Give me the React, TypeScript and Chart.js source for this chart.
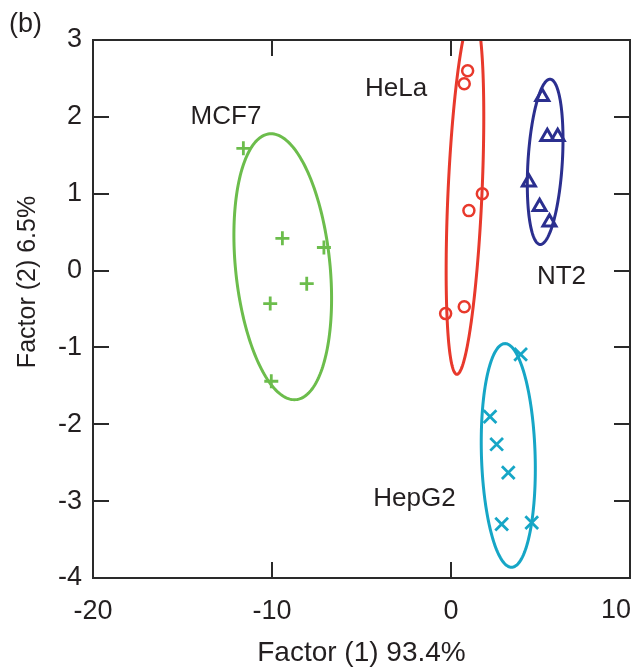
import React, { useEffect, useRef } from 'react';
import { Chart, registerables } from 'chart.js';

Chart.register(...registerables);

// Axes
const xMin = -20;
const xMax = 10;
const yMin = -4;
const yMax = 3;
const xTitle = 'Factor (1) 93.4%';
const yTitle = 'Factor (2) 6.5%';
const panelLabel = '(b)';

// Group scores
const mcf7X = [-11.6, -9.42, -7.1, -8.06, -10.1, -10.04];
const mcf7Y = [1.59, 0.42, 0.3, -0.17, -0.43, -1.44];
const helaX = [0.93, 0.74, 1.75, 1.0, -0.3, 0.74];
const helaY = [2.6, 2.43, 1.0, 0.78, -0.56, -0.47];
const nt2X = [5.1, 5.38, 5.96, 4.35, 4.95, 5.5];
const nt2Y = [2.26, 1.74, 1.74, 1.15, 0.83, 0.63];
const hepg2X = [3.89, 2.18, 2.55, 3.2, 2.83, 4.51];
const hepg2Y = [-1.09, -1.9, -2.26, -2.63, -3.3, -3.28];

// Confidence ellipses (MCF7, HeLa, NT2, HepG2): centre, half-width, half-height, tilt
const groupNames = ['MCF7', 'HeLa', 'NT2', 'HepG2'];
const groupColors = ['#6cbd4c', '#e8392c', '#2b2f8f', '#16a6c6'];
const ellipseCx = [-9.4, 0.78, 5.26, 3.2];
const ellipseCy = [0.05, 1.0, 1.415, -2.405];
const ellipseRx = [2.65, 0.95, 0.96, 1.5];
const ellipseRy = [1.73, 2.35, 1.075, 1.455];
const ellipseKx = [-0.65, 0.45, 0.27, -0.18];
const labelX = [-12.57, -3.07, 6.17, -2.04];
const labelY = [2.0, 2.37, -0.08, -2.97];

const FONT = "'Liberation Sans', Arial, Helvetica, sans-serif";
const TEXT = '#231f20';

export default function App() {
  const ref = useRef<HTMLCanvasElement | null>(null);

  useEffect(() => {
    if (!ref.current) return;
    const pts = (xs: number[], ys: number[]) => xs.map((x, i) => ({ x, y: ys[i] }));

    const overlay = {
      id: 'overlay',
      beforeDatasetsDraw(chart: any) {
        const { ctx, chartArea: a, scales } = chart;
        const sx = scales.x;
        const sy = scales.y;
        ctx.save();
        ctx.beginPath();
        ctx.rect(a.left, a.top, a.right - a.left, a.bottom - a.top);
        ctx.clip();
        for (let g = 0; g < groupNames.length; g++) {
          ctx.beginPath();
          const n = 200;
          for (let k = 0; k <= n; k++) {
            const t = (k / n) * Math.PI * 2;
            const vx = ellipseCx[g] + ellipseRx[g] * Math.cos(t) + ellipseKx[g] * Math.sin(t);
            const vy = ellipseCy[g] + ellipseRy[g] * Math.sin(t);
            const px = sx.getPixelForValue(vx);
            const py = sy.getPixelForValue(vy);
            if (k === 0) ctx.moveTo(px, py);
            else ctx.lineTo(px, py);
          }
          ctx.closePath();
          ctx.strokeStyle = groupColors[g];
          ctx.lineWidth = 3;
          ctx.stroke();
        }
        ctx.restore();
      },
      afterDatasetsDraw(chart: any) {
        const { ctx, chartArea: a, scales } = chart;
        const sx = scales.x;
        const sy = scales.y;
        ctx.save();
        ctx.strokeStyle = '#2a2a2a';
        ctx.lineWidth = 2;
        ctx.strokeRect(a.left, a.top, a.right - a.left, a.bottom - a.top);
        const tl = 16;
        ctx.beginPath();
        sx.ticks.forEach((t: any) => {
          if (t.value <= xMin || t.value >= xMax) return;
          const px = Math.round(sx.getPixelForValue(t.value));
          ctx.moveTo(px, a.bottom);
          ctx.lineTo(px, a.bottom - tl);
          ctx.moveTo(px, a.top);
          ctx.lineTo(px, a.top + tl);
        });
        sy.ticks.forEach((t: any) => {
          if (t.value <= yMin || t.value >= yMax) return;
          const py = Math.round(sy.getPixelForValue(t.value));
          ctx.moveTo(a.left, py);
          ctx.lineTo(a.left + tl, py);
          ctx.moveTo(a.right, py);
          ctx.lineTo(a.right - tl, py);
        });
        ctx.stroke();

        ctx.fillStyle = TEXT;
        ctx.font = `26px ${FONT}`;
        ctx.textAlign = 'center';
        ctx.textBaseline = 'middle';
        for (let g = 0; g < groupNames.length; g++) {
          ctx.fillText(groupNames[g], sx.getPixelForValue(labelX[g]), sy.getPixelForValue(labelY[g]));
        }
        // last x tick label kept inside the canvas
        ctx.font = `27px ${FONT}`;
        ctx.textAlign = 'right';
        ctx.fillText(String(xMax), sx.getPixelForValue(xMax) + 1, a.bottom + 33);
        ctx.textAlign = 'left';
        ctx.fillText(panelLabel, 9, 25);
        // y axis title
        ctx.save();
        ctx.translate(28, 282);
        ctx.rotate(-Math.PI / 2);
        ctx.textAlign = 'center';
        ctx.font = `25px ${FONT}`;
        ctx.fillText(yTitle, 0, 0);
        ctx.restore();
        ctx.restore();
      },
    };

    const chart = new Chart(ref.current, {
      type: 'scatter',
      data: {
        datasets: [
          {
            label: 'MCF7',
            data: pts(mcf7X, mcf7Y),
            pointStyle: 'cross',
            pointRadius: 7,
            borderColor: groupColors[0],
            backgroundColor: groupColors[0],
            pointBorderWidth: 2.8,
          },
          {
            label: 'HeLa',
            data: pts(helaX, helaY),
            pointStyle: 'circle',
            pointRadius: 5.5,
            borderColor: groupColors[1],
            backgroundColor: 'rgba(255,255,255,0)',
            pointBorderWidth: 2.5,
          },
          {
            label: 'NT2',
            data: pts(nt2X, nt2Y),
            pointStyle: 'triangle',
            pointRadius: 7.5,
            borderColor: groupColors[2],
            backgroundColor: 'rgba(255,255,255,0)',
            pointBorderWidth: 3,
          },
          {
            label: 'HepG2',
            data: pts(hepg2X, hepg2Y),
            pointStyle: 'crossRot',
            pointRadius: 9,
            borderColor: groupColors[3],
            backgroundColor: groupColors[3],
            pointBorderWidth: 2.8,
          },
        ],
      },
      options: {
        responsive: false,
        animation: false,
        events: [],
        layout: { autoPadding: false, padding: { left: 0, right: 5, top: 40, bottom: 0 } },
        plugins: { legend: { display: false }, tooltip: { enabled: false }, title: { display: false } },
        scales: {
          x: {
            type: 'linear',
            min: xMin,
            max: xMax,
            grid: { display: false, drawTicks: false },
            border: { display: false },
            ticks: {
              stepSize: 10,
              padding: 17,
              color: TEXT,
              font: { family: FONT, size: 27 },
              maxRotation: 0,
              callback: (v: any) => (v === xMax ? '' : String(v)),
            },
            title: {
              display: true,
              text: xTitle,
              color: TEXT,
              font: { family: FONT, size: 28 },
              padding: { top: 0, bottom: 0 },
            },
            afterFit: (s: any) => {
              s.height = 92;
              s.paddingLeft = 0;
              s.paddingRight = 0;
            },
          },
          y: {
            type: 'linear',
            min: yMin,
            max: yMax,
            grid: { display: false, drawTicks: false },
            border: { display: false },
            ticks: {
              stepSize: 1,
              padding: 11,
              color: TEXT,
              font: { family: FONT, size: 27 },
            },
            title: { display: false },
            afterFit: (s: any) => {
              s.width = 93;
              s.paddingTop = 0;
              s.paddingBottom = 0;
            },
          },
        },
      },
      plugins: [overlay],
    });
    return () => chart.destroy();
  }, []);

  return (
    <div style={{ position: 'absolute', left: 0, top: 0, width: 635, height: 670, background: '#fff' }}>
      <canvas ref={ref} width={635} height={670} style={{ display: 'block' }} />
    </div>
  );
}
